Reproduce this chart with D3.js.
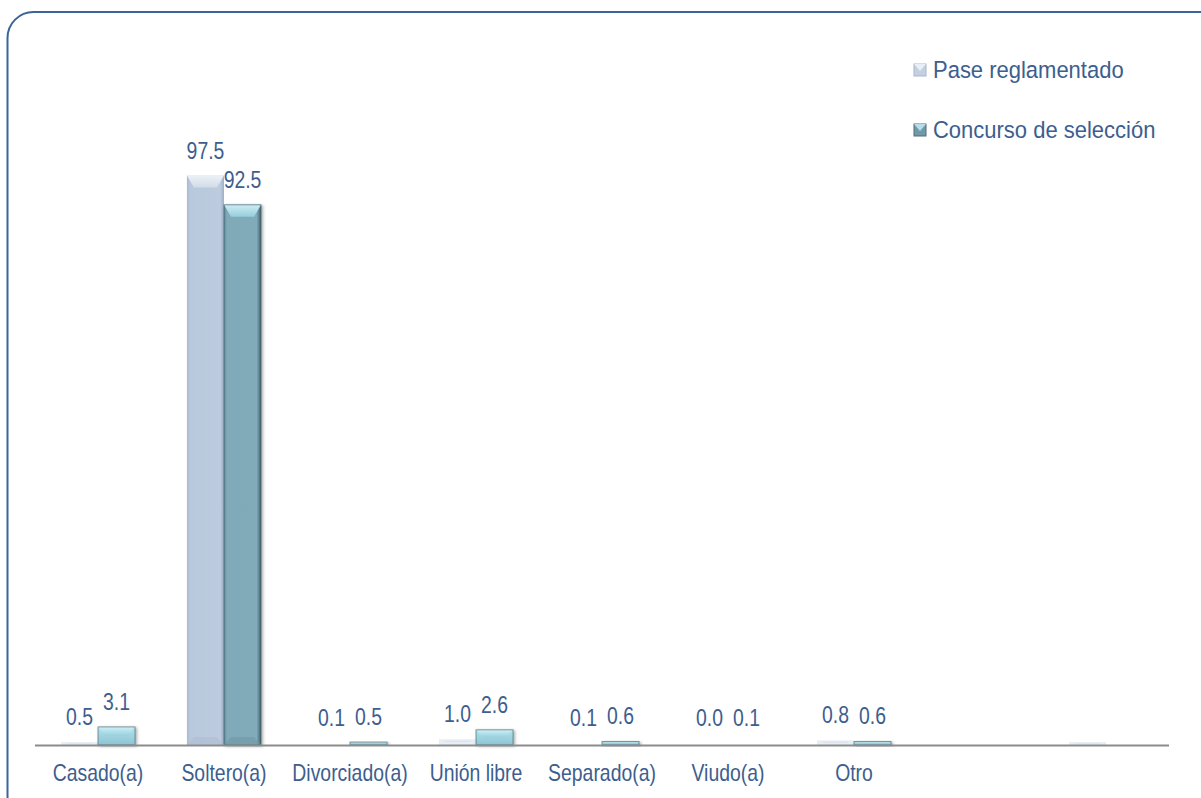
<!DOCTYPE html>
<html><head><meta charset="utf-8">
<script src="https://cdn.jsdelivr.net/npm/d3@7"></script>
<style>html,body{margin:0;padding:0;background:#fff;overflow:hidden}</style>
</head><body>
<svg id="c" width="1201" height="798"></svg>
<script>
const categories = ["Casado(a)","Soltero(a)","Divorciado(a)","Unión libre","Separado(a)","Viudo(a)","Otro","",""];
const series = ["Pase reglamentado","Concurso de selección"];
const paseValues = [0.5,97.5,0.1,1.0,0.1,0.0,0.8,null,0.5];
const concursoValues = [3.1,92.5,0.5,2.6,0.6,0.1,0.6,null,null];
const paseLabels = ["0.5","97.5","0.1","1.0","0.1","0.0","0.8","",""];
const concursoLabels = ["3.1","92.5","0.5","2.6","0.6","0.1","0.6","",""];

const svg = d3.select("#c");
const textColor = "#3d5e8e";
const font = "'Liberation Sans', Arial, sans-serif";
const SX = 0.97, SY = 1.15;

// frame
svg.append("rect").attr("x",7.5).attr("y",12).attr("width",1230).attr("height",810)
  .attr("rx",26).attr("fill","#fff").attr("stroke","#3b6598").attr("stroke-width",2);

const defs = svg.append("defs");
function grad(id, stops, horiz){
  const g = defs.append("linearGradient").attr("id",id)
    .attr("x1",0).attr("y1",0).attr("x2",horiz?1:0).attr("y2",horiz?0:1);
  stops.forEach(s=>g.append("stop").attr("offset",s[0]).attr("stop-color",s[1]));
}
grad("paseBody",[[0,"#a9b8cc"],[0.08,"#b9c9dd"],[0.9,"#bccbde"],[1,"#9eaec4"]],true);
grad("paseTop",[[0,"#f2f5f9"],[1,"#d3deea"]],false);
grad("concBody",[[0,"#5f8796"],[0.08,"#80aab9"],[0.88,"#82abba"],[1,"#3f5f6b"]],true);
grad("concTop",[[0,"#d0f0f6"],[1,"#96d0de"]],false);
grad("concSmall",[[0,"#b4e2ec"],[1,"#8cc4d2"]],false);
const sh = defs.append("filter").attr("id","sh").attr("x","-20%").attr("y","-20%").attr("width","150%").attr("height","150%");
sh.append("feDropShadow").attr("dx",1.5).attr("dy",1).attr("stdDeviation",1.5).attr("flood-color","#000").attr("flood-opacity",0.35);

const x0 = d3.scaleBand().domain(d3.range(categories.length)).range([35,1169]).paddingInner(0).paddingOuter(0);
const x1 = d3.scaleBand().domain(series).range([0,x0.bandwidth()]).paddingInner(0).paddingOuter(0.7);
const y = d3.scaleLinear().domain([0,100]).range([745,161]);

const data = [];
categories.forEach((c,i)=>{
  data.push({i, s:series[0], v:paseValues[i], lab:paseLabels[i]});
  data.push({i, s:series[1], v:concursoValues[i], lab:concursoLabels[i]});
});

const g = svg.append("g");
data.filter(d=>d.v!=null).forEach(d=>{
  const bx = x0(d.i)+x1(d.s), bw = x1.bandwidth();
  const top = y(d.v), h = y(0)-top;
  if (h < 1) return;
  const isP = d.s===series[0];
  const bg = g.append("g").attr("filter", isP ? null : "url(#sh)");
  let fill;
  if (isP) fill = h<10 ? "#e9eef5" : "url(#paseBody)";
  else fill = h<30 ? "url(#concSmall)" : "url(#concBody)";
  bg.append("rect").attr("x",bx).attr("y",top).attr("width",bw).attr("height",h).attr("fill",fill);
  const bv = Math.min(12, h*0.5);
  const inset = Math.min(7, bw*0.2);
  bg.append("path")
    .attr("d",`M${bx},${top} L${bx+bw},${top} L${bx+bw-inset},${top+bv} L${bx+inset},${top+bv} Z`)
    .attr("fill", isP ? "url(#paseTop)" : "url(#concTop)").attr("opacity", isP?0.9:0.95);
  if (h > 30) {
    bg.append("path")
      .attr("d",`M${bx},${top+h} L${bx+bw},${top+h} L${bx+bw-inset},${top+h-8} L${bx+inset},${top+h-8} Z`)
      .attr("fill", isP ? "#aebdd2" : "#6f97a6").attr("opacity",0.6);
  }
  if (!isP) {
    bg.append("rect").attr("x",bx).attr("y",top).attr("width",bw).attr("height",h)
      .attr("fill","none").attr("stroke","#3d5c66").attr("stroke-width",1).attr("opacity",0.6);
  }
});

// axis line
svg.append("line").attr("x1",35).attr("x2",1169).attr("y1",745.5).attr("y2",745.5)
  .attr("stroke","#8c8c8c").attr("stroke-width",2);

// value labels
svg.append("g").selectAll("text").data(data.filter(d=>d.lab)).join("text")
  .attr("transform", d=>`translate(${x0(d.i)+x1(d.s)+x1.bandwidth()/2},${Math.min(y(d.v)-17, 726)}) scale(${SX},${SY})`)
  .attr("text-anchor","middle")
  .attr("font-family",font).attr("font-size",20).attr("fill",textColor)
  .text(d=>d.lab);

// category axis labels
const xAxis = d3.axisBottom(x0).tickSize(0).tickFormat(i=>categories[i]);
const ax = svg.append("g").attr("transform","translate(0,745)").call(xAxis);
ax.select(".domain").remove();
ax.selectAll("text").attr("dy",0).attr("y",0)
  .attr("transform",`translate(0,36) scale(${SX},${SY})`)
  .attr("font-family",font).attr("font-size",20).attr("fill",textColor);

// legend
const leg = svg.append("g");
const legY = [70,130];
series.forEach((s,k)=>{
  const lg = leg.append("g").attr("transform",`translate(914,${legY[k]})`);
  lg.append("rect").attr("x",0).attr("y",-6).attr("width",12).attr("height",12)
    .attr("fill", k===0 ? "#c3d0e2" : "#6f9aaa").attr("stroke", k===0?"#a9b8cc":"#4e6f7b").attr("stroke-width",1);
  lg.append("path").attr("d","M0,-6 L12,-6 L6,1 Z").attr("fill", k===0 ? "#eef2f8" : "#bfe6ee").attr("opacity",0.9);
  lg.append("text").attr("transform","translate(19,7.5) scale(1,1.08)")
    .attr("font-family",font).attr("font-size",22).attr("fill",textColor).text(s);
});
</script>
</body></html>
